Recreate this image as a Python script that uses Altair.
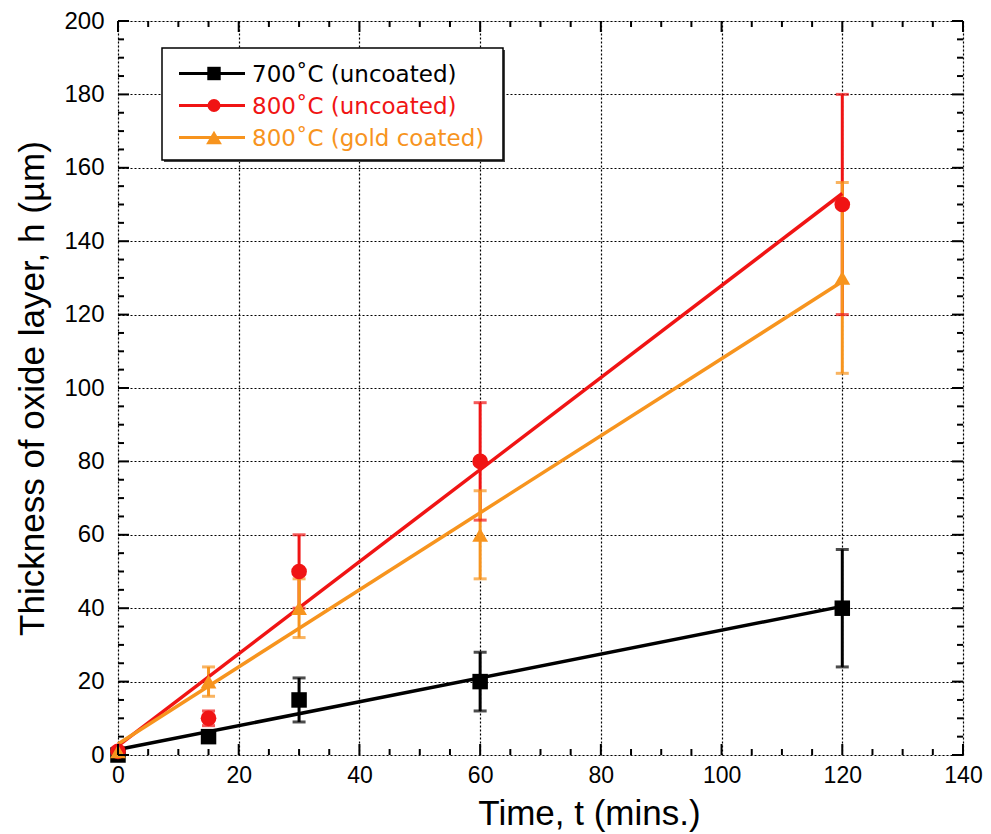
import altair as alt
import pandas as pd

# ---------------- data ----------------
times = [0, 15, 30, 60, 120]
series = ["700˚C (uncoated)", "800˚C (uncoated)", "800˚C (gold coated)"]
colors = ["#000000", "#f01414", "#f7941e"]
shapes = ["square", "circle", "triangle-up"]

thick_700 = [0, 5, 15, 20, 40]
err_700 = [1, 1, 6, 8, 16]
thick_800 = [1, 10, 50, 80, 150]
err_800 = [1, 2, 10, 16, 30]
thick_gold = [1, 20, 40, 60, 130]
err_gold = [1, 4, 8, 12, 26]

fit_t = [0, 120]
fit_700 = [1.5, 40.5]
fit_800 = [2.5, 153]
fit_gold = [3, 129]

x_major = list(range(0, 141, 20))
x_minor = [v for v in range(0, 141, 5) if v % 20]
y_major = list(range(0, 201, 20))
y_minor = [v for v in range(0, 201, 5) if v % 20]

# ---------------- tables ----------------
rows = []
for s, vals, errs in zip(series, [thick_700, thick_800, thick_gold], [err_700, err_800, err_gold]):
    for t, v, e in zip(times, vals, errs):
        rows.append({"series": s, "t": t, "h": v, "lo": v - e, "hi": v + e})
pts = pd.DataFrame(rows)

frows = []
for s, vals in zip(series, [fit_700, fit_800, fit_gold]):
    for t, v in zip(fit_t, vals):
        frows.append({"series": s, "t": t, "h": v})
fits = pd.DataFrame(frows)

W, H = 845, 734

xs = alt.Scale(domain=[0, 140], nice=False, zero=False)
ys = alt.Scale(domain=[0, 200], nice=False, zero=False)
cs = alt.Scale(domain=series, range=colors)
ss = alt.Scale(domain=series, range=shapes)
sz = alt.Scale(domain=series, range=[240, 250, 420])

x_axis = alt.Axis(values=x_major, grid=True, gridDash=[2, 2], gridColor="black",
                  gridWidth=1.2, gridOpacity=1, ticks=False, domain=False,
                  labelFont="Liberation Sans", labelFontSize=23, labelColor="black",
                  labelPadding=9, title="Time, t (mins.)", titleFont="Liberation Sans",
                  titleFontSize=35, titleFontWeight="normal", titleColor="black",
                  titlePadding=9, titleX=471, labelFlush=False)
y_axis = alt.Axis(values=y_major, grid=True, gridDash=[2, 2], gridColor="black",
                  gridWidth=1.2, gridOpacity=1, ticks=False, domain=False,
                  labelFont="Liberation Sans", labelFontSize=24, labelColor="black",
                  labelPadding=14, title="Thickness of oxide layer, h (µm)",
                  titleFont="Liberation Sans", titleFontSize=35, titleFontWeight="normal",
                  titleColor="black", titlePadding=13, labelFlush=False)

X = lambda f: alt.X(f, type="quantitative", scale=xs, axis=x_axis)
Y = lambda f: alt.Y(f, type="quantitative", scale=ys, axis=y_axis)
C = alt.Color("series:N", scale=cs, legend=None)

# error bars
err_rule = alt.Chart(pts).mark_rule(strokeWidth=3).encode(x=X("t"), y=Y("lo"), y2="hi", color=C)
cap_lo = alt.Chart(pts).mark_tick(orient="horizontal", size=13, thickness=3).encode(
    x=X("t"), y=Y("lo"), color=C)
cap_hi = alt.Chart(pts).mark_tick(orient="horizontal", size=13, thickness=3).encode(
    x=X("t"), y=Y("hi"), color=C)

# fitted lines
lines = alt.Chart(fits).mark_line(strokeWidth=3.5).encode(
    x=X("t"), y=Y("h"), color=C, detail="series:N")

# markers
marks = alt.Chart(pts).mark_point(filled=True, opacity=1).encode(
    x=X("t"), y=Y("h"), color=C,
    shape=alt.Shape("series:N", scale=ss, legend=None),
    size=alt.Size("series:N", scale=sz, legend=None))

# inward ticks on all four sides
def xticks(vals, length):
    d = pd.DataFrame({"v": vals})
    b = alt.Chart(d).mark_rule(color="black", strokeWidth=2).encode(
        x=X("v"), y=alt.value(H), y2=alt.value(H - length))
    t = alt.Chart(d).mark_rule(color="black", strokeWidth=2).encode(
        x=X("v"), y=alt.value(0), y2=alt.value(length))
    return [b, t]

def yticks(vals, length):
    d = pd.DataFrame({"v": vals})
    l = alt.Chart(d).mark_rule(color="black", strokeWidth=2).encode(
        y=Y("v"), x=alt.value(0), x2=alt.value(length))
    r = alt.Chart(d).mark_rule(color="black", strokeWidth=2).encode(
        y=Y("v"), x=alt.value(W), x2=alt.value(W - length))
    return [l, r]

tick_layers = xticks(x_major, 11) + xticks(x_minor, 6) + yticks(y_major, 11) + yticks(y_minor, 6)

# legend (drawn by hand to match the line+marker symbols and coloured labels)
one = pd.DataFrame({"k": [0]})
leg_shadow = alt.Chart(one).mark_rect(fill="#444444").encode(
    x=alt.value(46), x2=alt.value(387), y=alt.value(29), y2=alt.value(141))
leg_box = alt.Chart(one).mark_rect(fill="white", stroke="black", strokeWidth=1.5).encode(
    x=alt.value(44), x2=alt.value(385), y=alt.value(27), y2=alt.value(139))
leg_layers = [leg_shadow, leg_box]
row_y = [52.5, 84.5, 116.5]
leg_sizes = [180, 170, 250]
for s, c, sh, yy, sz_ in zip(series, colors, shapes, row_y, leg_sizes):
    leg_layers.append(alt.Chart(one).mark_rule(color=c, strokeWidth=3).encode(
        x=alt.value(61), x2=alt.value(127), y=alt.value(yy)))
    leg_layers.append(alt.Chart(one).mark_point(filled=True, opacity=1, color=c, shape=sh,
                                                size=sz_).encode(
        x=alt.value(96), y=alt.value(yy)))
    leg_layers.append(alt.Chart(one).mark_text(color=c, font="DejaVu Sans", fontSize=23,
                                               align="left", baseline="middle").encode(
        x=alt.value(134), y=alt.value(yy + 1), text=alt.value(s)))

chart = alt.layer(
    err_rule, cap_lo, cap_hi, lines, marks, *tick_layers, *leg_layers
).properties(
    width=W, height=H,
    autosize=alt.AutoSizeParams(type="none"),
    padding={"left": 110, "top": 13, "right": 20, "bottom": 79},
).configure_view(stroke="black", strokeWidth=3).configure(background="white")

chart.save("out.html", embed_options={"renderer": "svg", "actions": False})
